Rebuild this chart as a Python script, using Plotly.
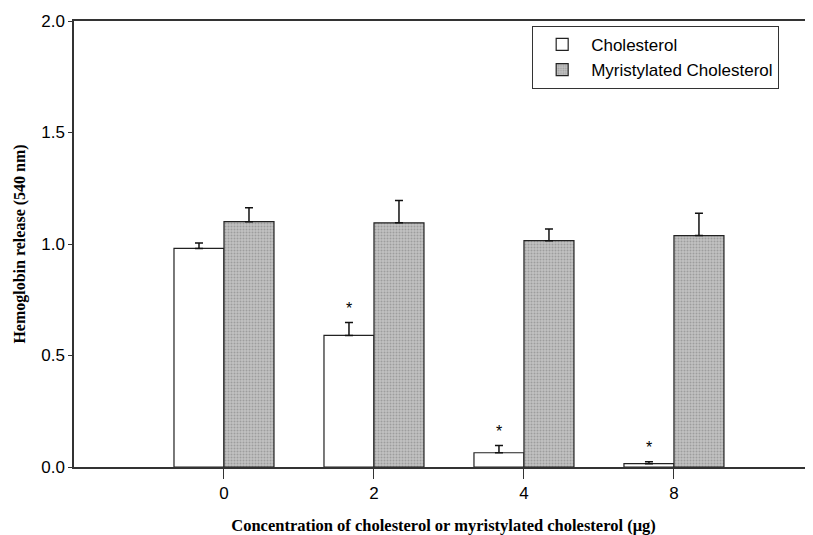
import plotly.graph_objects as go

categories = ["0", "2", "4", "8"]
chol_vals = [0.98, 0.59, 0.064, 0.015]
chol_err = [0.025, 0.058, 0.032, 0.009]
myr_vals = [1.10, 1.095, 1.015, 1.038]
myr_err = [0.063, 0.100, 0.052, 0.100]
significant = [False, True, True, True]
y_ticks = [0.0, 0.5, 1.0, 1.5, 2.0]

fig = go.Figure()
fig.add_trace(go.Bar(
    x=categories, y=chol_vals, name="Cholesterol",
    marker=dict(color="white", line=dict(color="#222", width=1.2)),
    error_y=dict(type="data", array=chol_err, arrayminus=[0]*4, symmetric=False,
                 color="#111", thickness=1.5, width=4),
))
fig.add_trace(go.Bar(
    x=categories, y=myr_vals, name="Myristylated Cholesterol",
    marker=dict(color="#c2c2c2", line=dict(color="#222", width=1.2),
                pattern=dict(shape=".", fgcolor="#777777", bgcolor="#c2c2c2",
                             size=3, solidity=0.35)),
    error_y=dict(type="data", array=myr_err, arrayminus=[0]*4, symmetric=False,
                 color="#111", thickness=1.5, width=4),
))

for i, c in enumerate(categories):
    if significant[i]:
        fig.add_annotation(x=i, y=chol_vals[i] + chol_err[i] + 0.065, text="*",
                           showarrow=False, xshift=-25, yanchor="middle",
                           font=dict(size=16, color="black", family="Liberation Sans"))

# page body has an 8px margin, so the figure is sized to fill the rest of the window
fig.update_layout(
    width=805, height=527,
    margin=dict(l=66, r=0, t=13, b=68, autoexpand=False),
    plot_bgcolor="white", paper_bgcolor="white",
    barmode="group", bargap=1/3, bargroupgap=0,
    font=dict(family="Liberation Sans", size=17, color="black"),
    legend=dict(x=0.62, y=0.989, xanchor="left", yanchor="top",
                bordercolor="#333", borderwidth=1, bgcolor="white",
                font=dict(size=17, family="Liberation Sans"), itemwidth=48,
                tracegroupgap=0),
)
fig.update_xaxes(
    type="category", range=[-1, 3.927], automargin=False,
    showline=True, linecolor="#333", linewidth=1.5, mirror=True,
    ticks="outside", ticklen=10, tickcolor="#333", tickwidth=1,
    showgrid=False,
    title=dict(text="<b>Concentration of cholesterol or myristylated cholesterol (μg)</b>",
               font=dict(family="Liberation Serif", size=16.5), standoff=17),
)
fig.update_yaxes(
    range=[0, 2.0], tickvals=y_ticks, ticktext=[f"{v:.1f}" for v in y_ticks],
    automargin=False,
    showline=True, linecolor="#333", linewidth=1.5,
    ticks="outside", ticklen=4, tickcolor="#333",
    showgrid=False, zeroline=False,
    title=dict(text="<b>Hemoglobin release (540 nm)</b>",
               font=dict(family="Liberation Serif", size=16), standoff=12),
)

fig.write_html("out.html")
